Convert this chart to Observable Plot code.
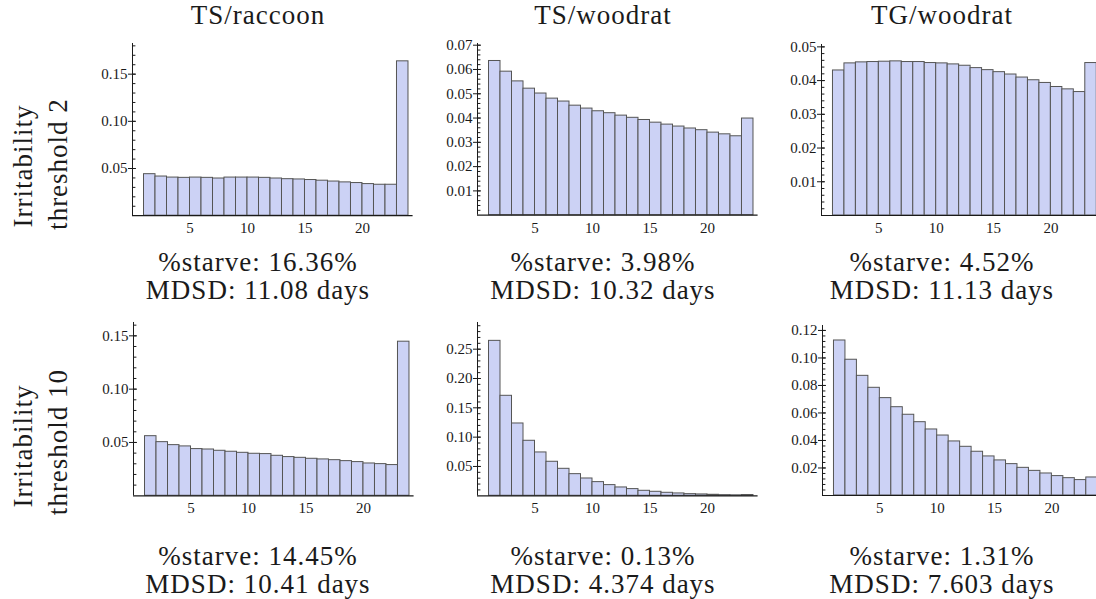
<!DOCTYPE html>
<html><head><meta charset="utf-8">
<script src="https://cdn.jsdelivr.net/npm/d3@7"></script>
<script src="https://cdn.jsdelivr.net/npm/@observablehq/plot@0.6"></script>
<style>
body{margin:0;background:#fff;}
#root{position:relative;width:1096px;height:599px;overflow:hidden;background:#fff;}
#root svg{position:absolute;}
.ov text{font-family:"Liberation Serif","Times New Roman",Times,Tinos,"DejaVu Serif","Noto Serif",serif;font-size:27px;letter-spacing:1px;fill:#1a1a1a;}
</style></head><body><div id="root"></div>
<script>
// ---- data ----
const bins = [1,2,3,4,5,6,7,8,9,10,11,12,13,14,15,16,17,18,19,20,21,22,23];
const xTicks = [5,10,15,20];
const columnTitles = ["TS/raccoon","TS/woodrat","TG/woodrat"];
const rowLabels = [["Irritability","threshold 2"],["Irritability","threshold 10"]];
const starvePct = ["16.36%","3.98%","4.52%","14.45%","0.13%","1.31%"];
const mdsdDays = ["11.08","10.32","11.13","10.41","4.374","7.603"];

const tsRaccoonT2 = [0.0440,0.0415,0.0404,0.0401,0.0404,0.0401,0.0394,0.0404,0.0404,0.0404,0.0401,0.0394,0.0387,0.0384,0.0378,0.0371,0.0362,0.0353,0.0346,0.0335,0.0328,0.0328,0.1636];
const tsWoodratT2 = [0.0635,0.0591,0.0551,0.0521,0.0501,0.0480,0.0468,0.0451,0.0439,0.0428,0.0420,0.0410,0.0401,0.0392,0.0381,0.0373,0.0365,0.0357,0.0350,0.0340,0.0333,0.0325,0.0398];
const tgWoodratT2 = [0.0430,0.0451,0.0454,0.0455,0.0456,0.0457,0.0455,0.0455,0.0452,0.0451,0.0448,0.0444,0.0437,0.0431,0.0425,0.0418,0.0409,0.0401,0.0393,0.0381,0.0374,0.0366,0.0452];
const tsRaccoonT10 = [0.0559,0.0503,0.0475,0.0463,0.0438,0.0434,0.0422,0.0413,0.0403,0.0394,0.0391,0.0375,0.0363,0.0356,0.0347,0.0341,0.0334,0.0325,0.0316,0.0303,0.0297,0.0288,0.1445];
const tsWoodratT10 = [0.2642,0.1705,0.1233,0.0938,0.0739,0.0580,0.0460,0.0369,0.0295,0.0233,0.0182,0.0142,0.0114,0.0085,0.0068,0.0051,0.0040,0.0028,0.0023,0.0017,0.0011,0.0008,0.0013];
const tgWoodratT10 = [0.1127,0.0987,0.0870,0.0783,0.0708,0.0642,0.0587,0.0533,0.0480,0.0436,0.0393,0.0354,0.0318,0.0284,0.0255,0.0228,0.0201,0.0179,0.0160,0.0141,0.0126,0.0112,0.0131];

const yTicksP1 = [0.05,0.10,0.15];
const yTicksP2 = [0.01,0.02,0.03,0.04,0.05,0.06,0.07];
const yTicksP3 = [0.01,0.02,0.03,0.04,0.05];
const yTicksP4 = [0.05,0.10,0.15];
const yTicksP5 = [0.05,0.10,0.15,0.20,0.25];
const yTicksP6 = [0.02,0.04,0.06,0.08,0.10,0.12];

// ---- layout ----
const panels = [
  {values: tsRaccoonT2,  ticks: yTicksP1, left: 132,   top: 43.3,  base: 215.5, unit: 11.5,  ymax: 0.1825},
  {values: tsWoodratT2,  ticks: yTicksP2, left: 476.8, top: 43.3,  base: 215,   unit: 11.5,  ymax: 0.0707},
  {values: tgWoodratT2,  ticks: yTicksP3, left: 821,   top: 44,    base: 215,   unit: 11.47, ymax: 0.0507},
  {values: tsRaccoonT10, ticks: yTicksP4, left: 132.5, top: 321.7, base: 495,   unit: 11.5,  ymax: 0.1625},
  {values: tsWoodratT10, ticks: yTicksP5, left: 476.7, top: 321.7, base: 495,   unit: 11.5,  ymax: 0.2955},
  {values: tgWoodratT10, ticks: yTicksP6, left: 821.5, top: 325,   base: 495,   unit: 11.47, ymax: 0.1236}
];
const XMAX = 24.4;
const FONT = "'Liberation Serif','Times New Roman',Times,Tinos,'DejaVu Serif','Noto Serif',serif";
const root = document.getElementById("root");
const tickShape = {draw(ctx, l) { ctx.moveTo(0, 0); ctx.lineTo(0, -l); }};

panels.forEach(P => {
  const data = bins.map((b, i) => ({x1: b, x2: b + 1, y: P.values[i]}));
  const ml = 46, mr = 6, mt = 4, mb = 30;
  const fw = XMAX * P.unit, fh = P.base - P.top;
  const minorStep = (P.ticks[1] - P.ticks[0]) / 5;
  const minor = d3.range(1, Math.floor(P.ymax / minorStep + 1e-6) + 1).map(k => k * minorStep);
  const svg = Plot.plot({
    width: ml + fw + mr, height: mt + fh + mb,
    marginLeft: ml, marginRight: mr, marginTop: mt, marginBottom: mb,
    x: {domain: [0, XMAX]},
    y: {domain: [0, P.ymax]},
    style: {fontFamily: FONT, fontSize: "15px", color: "#1a1a1a", background: "transparent", overflow: "visible"},
    marks: [
      Plot.rectY(data, {x1: "x1", x2: "x2", y: "y", fill: "rgb(204,210,245)", stroke: "#555", strokeWidth: 1}),
      Plot.axisY({ticks: P.ticks, tickSize: 4, tickPadding: 1, tickFormat: d3.format(".2f"), label: null, fontSize: 15, fontFamily: FONT}),
      Plot.vector(P.ticks, {x: 0, y: d => d, length: 3, rotate: 90, anchor: "start", stroke: "#1a1a1a", strokeWidth: 1, shape: tickShape}),
      Plot.vector(minor, {x: 0, y: d => d, length: 2.5, rotate: 90, anchor: "start", stroke: "#1a1a1a", strokeWidth: 1, shape: tickShape}),
      Plot.axisX({ticks: xTicks, tickSize: 0, tickPadding: 7, label: null, fontSize: 15, fontFamily: FONT}),
      Plot.ruleX([0], {stroke: "#1a1a1a", strokeWidth: 1}),
      Plot.ruleY([0], {stroke: "#1a1a1a", strokeWidth: 1.2})
    ]
  });
  svg.style.left = (P.left - ml) + "px";
  svg.style.top = (P.top - mt) + "px";
  root.appendChild(svg);
});

// ---- text overlay ----
const colCenters = [258, 603, 942];
const ov = d3.select(root).append("svg")
  .attr("class", "ov")
  .attr("width", 1096).attr("height", 599)
  .style("left", "0px").style("top", "0px");

columnTitles.forEach((t, i) => {
  ov.append("text").attr("x", colCenters[i]).attr("y", 24).attr("text-anchor", "middle").text(t);
});
const statRows = [[271, 299], [565, 593]];
starvePct.forEach((s, k) => {
  const r = Math.floor(k / 3), c = k % 3;
  ov.append("text").attr("x", colCenters[c]).attr("y", statRows[r][0]).attr("text-anchor", "middle").text("%starve: " + s);
  ov.append("text").attr("x", colCenters[c]).attr("y", statRows[r][1]).attr("text-anchor", "middle").text("MDSD: " + mdsdDays[k] + " days");
});
const rowCenters = [[166, 164], [446, 442]];
const rowX = [32, 67];
rowLabels.forEach((pair, r) => {
  pair.forEach((t, j) => {
    ov.append("text").attr("text-anchor", "middle")
      .attr("transform", `translate(${rowX[j]},${rowCenters[r][j]}) rotate(-90)`).text(t);
  });
});
</script>
</body></html>
